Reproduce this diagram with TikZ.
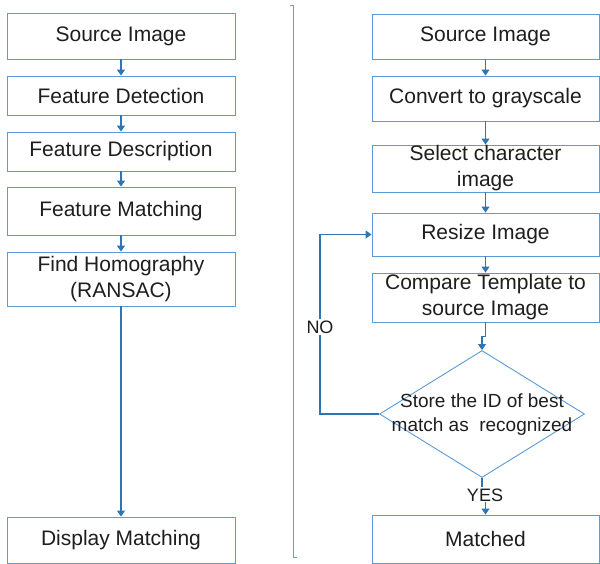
\documentclass[tikz,border=0pt]{standalone}
\usepackage{fontspec}
\setmainfont{Liberation Sans}
\usepackage{tikz}
\usetikzlibrary{shapes.geometric,arrows.meta}
\definecolor{boxblue}{RGB}{91,155,213}
\definecolor{arrblue}{RGB}{46,117,182}
\definecolor{sepblue}{RGB}{120,150,200}
\definecolor{txt}{RGB}{30,30,30}
\tikzset{
  block/.style={draw=boxblue, line width=0.9pt, fill=white, text=txt, align=center,
    inner sep=0pt, font=\fontsize{21}{26}\selectfont},
  lblock/.style={block, minimum width=228pt},
  rblock/.style={block, minimum width=227pt},
  decision/.style={diamond, draw=boxblue, line width=0.9pt, fill=white, inner sep=0pt,
    minimum width=205pt, minimum height=127pt},
  dectext/.style={text=txt, align=center, font=\fontsize{19}{24}\selectfont},
  answer/.style={text=txt, fill=white, inner sep=1pt, font=\fontsize{18}{20}\selectfont},
  arr/.style={draw=arrblue, line width=1.1pt, -{Triangle[width=8pt,length=6pt]}},
  conn/.style={draw=arrblue, line width=1.1pt},
}
\begin{document}
\begin{tikzpicture}[x=1pt, y=-1pt]
        \useasboundingbox (0,0) rectangle (600,563);
        % left flow
        \node[lblock, minimum height=46pt] (src) at (121, 36) {Source Image};
        \node[lblock, minimum height=39pt] (det) at (121, 95.5) {Feature Detection};
        \node[lblock, minimum height=39pt] (desc) at (121, 151.5) {Feature Description};
        \node[lblock, minimum height=48pt] (fmatch) at (121, 211) {Feature Matching};
        \node[lblock, minimum height=54pt] (homog) at (121, 279) {Find Homography\\(RANSAC)};
        \node[lblock, minimum height=46pt] (disp) at (121, 540) {Display Matching};
        \draw[arr] (src) -- (det);
        \draw[arr] (det) -- (desc);
        \draw[arr] (desc) -- (fmatch);
        \draw[arr] (fmatch) -- (homog);
        \draw[arr] (homog) -- (disp);
        % separator
        \draw[sepblue, line width=0.8pt] (290,5) -- (293,5) -- (293,557) -- (297,557);
        % right flow
        \node[rblock, minimum height=45pt] (src2) at (485.5, 36.5) {Source Image};
        \node[rblock, minimum height=45pt] (gray) at (485.5, 98.5) {Convert to grayscale};
        \node[rblock, minimum height=47pt] (sel) at (485.5, 168.5) {Select character\\image};
        \node[rblock, minimum height=43pt] (rsz) at (485.5, 234.5) {Resize Image};
        \node[rblock, minimum height=49pt] (cmp) at (485.5, 297.5) {Compare Template to\\source Image};
        \node[decision] (dec) at (482, 414) {};
        \node[dectext] (dectxt) at (482, 415) {Store the ID of best\\match as~ recognized};
        \node[rblock, minimum height=48pt] (mat) at (485.5, 539) {Matched};
        \node[answer] (yes) at (485, 495) {YES};
        \node[answer] (no) at (320, 327) {NO};
        \draw[arr] (src2) -- (gray);
        \draw[arr] (gray) -- (sel);
        \draw[arr] (sel) -- (rsz);
        \draw[arr] (rsz) -- (cmp);
        \draw[arr] (cmp.south) -- ++(0,14) -| (dec.north);
        \draw[conn] (dec.south) -- (dec.south |- yes.north);
        \draw[arr] (yes.south) -- (yes.south -| mat.north) -- (mat.north);
        \draw[conn] (dec.west) -| (no.south);
        \draw[arr] (no.north) |- (rsz.west);
\end{tikzpicture}
\end{document}
